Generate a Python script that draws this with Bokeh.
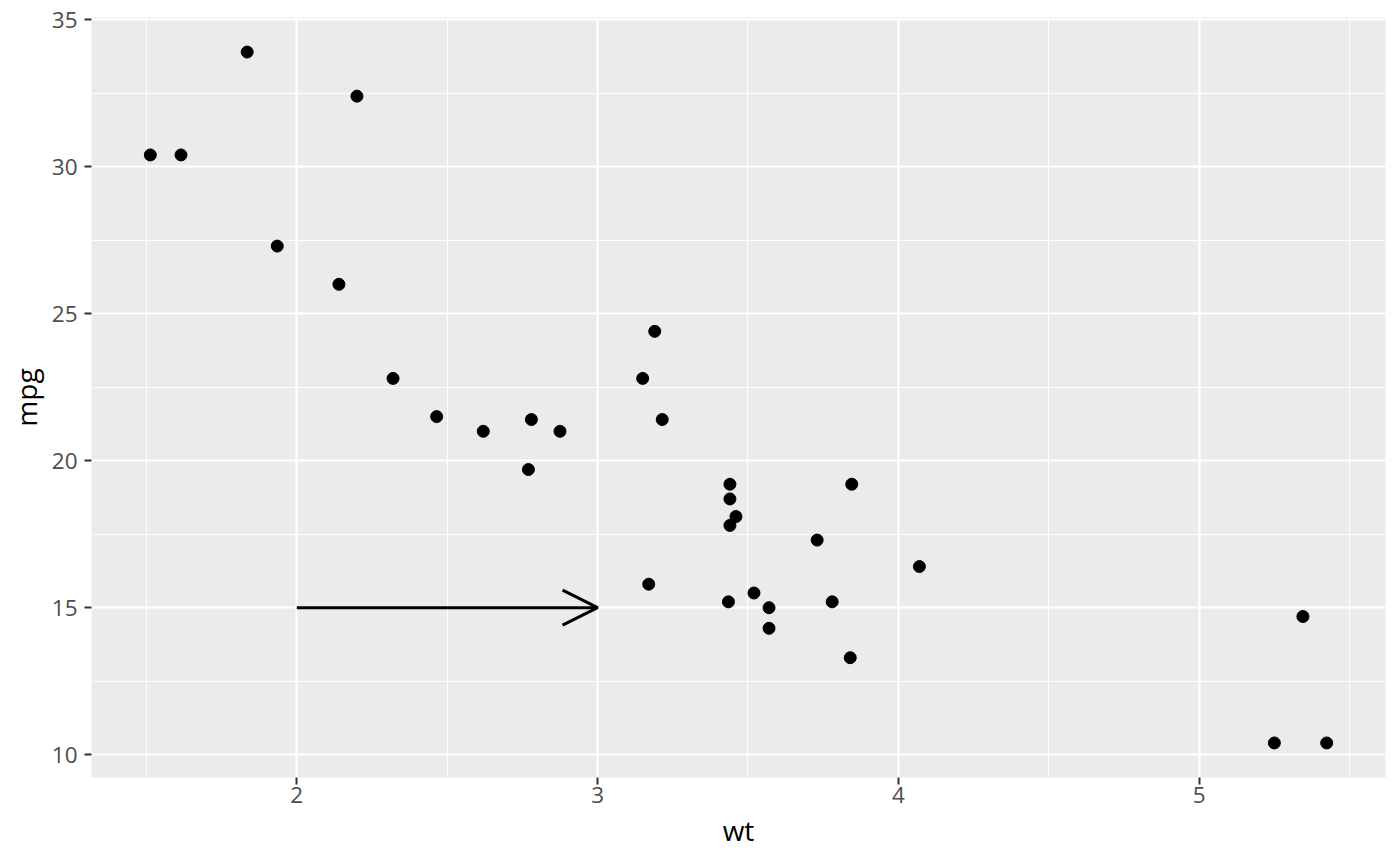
from bokeh.plotting import figure
from bokeh.models import ColumnDataSource, FixedTicker, Range1d, Arrow, OpenHead
from bokeh.embed import file_html
from bokeh.resources import INLINE

wt = [2.620, 2.875, 2.320, 3.215, 3.440, 3.460, 3.570, 3.190, 3.150, 3.440,
      3.440, 4.070, 3.730, 3.780, 5.250, 5.424, 5.345, 2.200, 1.615, 1.835,
      2.465, 3.520, 3.435, 3.840, 3.845, 1.935, 2.140, 1.513, 3.170, 2.770,
      3.570, 2.780]
mpg = [21.0, 21.0, 22.8, 21.4, 18.7, 18.1, 14.3, 24.4, 22.8, 19.2,
       17.8, 16.4, 17.3, 15.2, 10.4, 10.4, 14.7, 32.4, 30.4, 33.9,
       21.5, 15.5, 15.2, 13.3, 19.2, 27.3, 26.0, 30.4, 15.8, 19.7,
       15.0, 21.4]
x_ticks = [2, 3, 4, 5]
x_minor = [1.5, 2.5, 3.5, 4.5, 5.5]
y_ticks = [10, 15, 20, 25, 30, 35]
y_minor = [12.5, 17.5, 22.5, 27.5, 32.5]
arrow_start = (2, 15)
arrow_end = (3, 15)

xr = max(wt) - min(wt)
yr = max(mpg) - min(mpg)

p = figure(width=1392, height=858, output_backend="svg", toolbar_location=None,
           x_range=Range1d(min(wt) - 0.05 * xr, max(wt) + 0.05 * xr),
           y_range=Range1d(min(mpg) - 0.05 * yr, max(mpg) + 0.05 * yr),
           min_border_left=91, min_border_right=7, min_border_top=17, min_border_bottom=81,
           x_axis_label="wt", y_axis_label="mpg")
p.outline_line_color = None
p.background_fill_color = "#EBEBEB"
p.border_fill_color = "white"

for ax, ticks in ((p.xaxis, x_ticks), (p.yaxis, y_ticks)):
    ax.ticker = FixedTicker(ticks=ticks)
    ax.axis_line_color = None
    ax.major_tick_line_color = "#333333"
    ax.major_tick_line_width = 2
    ax.major_tick_out = 7
    ax.major_tick_in = 0
    ax.minor_tick_line_color = None
    ax.major_label_text_color = "#4D4D4D"
    ax.major_label_text_font = "Open Sans"
    ax.major_label_text_font_size = "22.5px"
    ax.axis_label_text_font = "Open Sans"
    ax.axis_label_text_font_size = "28px"
    ax.axis_label_text_font_style = "normal"
    ax.axis_label_text_color = "black"
p.yaxis.major_label_standoff = 7
p.xaxis.major_label_standoff = 2
p.xaxis.axis_label_standoff = 5
p.yaxis.axis_label_standoff = 4

p.xgrid.ticker = FixedTicker(ticks=x_ticks, minor_ticks=x_minor)
p.ygrid.ticker = FixedTicker(ticks=y_ticks, minor_ticks=y_minor)
for g in (p.xgrid, p.ygrid):
    g.grid_line_color = "white"
    g.grid_line_width = 2.2
    g.minor_grid_line_color = "white"
    g.minor_grid_line_width = 1.1

src = ColumnDataSource(dict(wt=wt, mpg=mpg))
p.scatter("wt", "mpg", source=src, size=12, color="black")

p.add_layout(Arrow(end=OpenHead(size=35, line_width=3, line_color="black"),
                   x_start=arrow_start[0], y_start=arrow_start[1],
                   x_end=arrow_end[0], y_end=arrow_end[1],
                   line_width=3, line_color="black"))

open("out.html", "w").write(file_html(p, INLINE))
